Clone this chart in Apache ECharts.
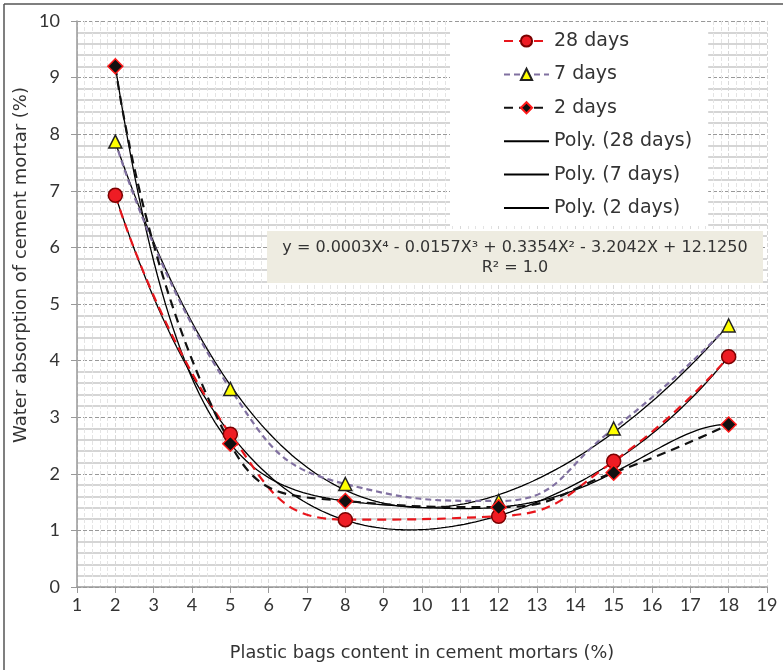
<!DOCTYPE html>
<html>
<head>
<meta charset="utf-8">
<style>
html, body { margin: 0; padding: 0; background: #fff; }
#chart { width: 783px; height: 670px; }
</style>
<script src="https://cdn.jsdelivr.net/npm/echarts@6/dist/echarts.min.js"></script>
</head>
<body>
<div id="chart"></div>
<script>
// plastic bag content (%)
const contents = [2, 5, 8, 12, 15, 18];
const days28 = [6.92, 2.70, 1.19, 1.25, 2.22, 4.07];
const days7 = [7.87, 3.50, 1.82, 1.52, 2.80, 4.62];
const days2 = [9.20, 2.53, 1.52, 1.41, 2.02, 2.87];
const legendNames = ['28 days', '7 days', '2 days', 'Poly. (28 days)', 'Poly. (7 days)', 'Poly. (2 days)'];
const equationText = 'y = 0.0003X⁴ - 0.0157X³ + 0.3354X² - 3.2042X + 12.1250\nR² = 1.0';
const yTitle = 'Water absorption of cement mortar (%)';
const xTitle = 'Plastic bags content in cement mortars (%)';

const FONT = 'DejaVu Sans';
const NUM_FONT = 'Lato';

// least squares polynomial trendline
function polyFit(xs, ys, deg) {
  const n = deg + 1;
  const A = [];
  for (let i = 0; i < n; i++) {
    A.push([]);
    for (let j = 0; j <= n; j++) A[i].push(0);
  }
  xs.forEach((x, k) => {
    for (let i = 0; i < n; i++) {
      for (let j = 0; j < n; j++) A[i][j] += Math.pow(x, i + j);
      A[i][n] += ys[k] * Math.pow(x, i);
    }
  });
  for (let c = 0; c < n; c++) {
    let p = c;
    for (let r = c + 1; r < n; r++) if (Math.abs(A[r][c]) > Math.abs(A[p][c])) p = r;
    [A[c], A[p]] = [A[p], A[c]];
    for (let r = 0; r < n; r++) {
      if (r === c) continue;
      const f = A[r][c] / A[c][c];
      for (let j = c; j <= n; j++) A[r][j] -= f * A[c][j];
    }
  }
  return A.map((row, i) => row[n] / A[i][i]);
}

function trend(ys, deg) {
  const coef = polyFit(contents, ys, deg);
  const pts = [];
  for (let x = contents[0]; x <= contents[contents.length - 1] + 1e-9; x += 0.1) {
    let y = 0;
    coef.forEach((c, i) => { y += c * Math.pow(x, i); });
    pts.push([x, y]);
  }
  return pts;
}

const pairs = ys => contents.map((x, i) => [x, ys[i]]);

const dataSeries = (name, ys, lineColor, dash, symbol, size, fill, border) => ({
  name: name,
  type: 'line',
  data: pairs(ys),
  smooth: 0.5,
  symbol: symbol,
  symbolSize: size,
  z: 4,
  lineStyle: { color: lineColor, width: 2.2, type: dash },
  itemStyle: { color: fill, borderColor: border, borderWidth: 1.5 }
});

const trendSeries = (name, ys, deg) => ({
  name: name,
  type: 'line',
  data: trend(ys, deg),
  showSymbol: false,
  z: 3,
  lineStyle: { color: '#000', width: 1.3 },
  itemStyle: { color: '#000' }
});

const myChart = echarts.init(document.getElementById('chart'));
myChart.setOption({
  animation: false,
  textStyle: { fontFamily: FONT },
  grid: { left: 77, right: 16, top: 21, bottom: 83 },
  xAxis: {
    type: 'value',
    min: 1, max: 19, interval: 1,
    name: xTitle,
    nameLocation: 'middle',
    nameGap: 57,
    nameTextStyle: { color: '#333', fontSize: 17.7, fontFamily: FONT },
    axisLine: { lineStyle: { color: '#999', width: 1.5 } },
    axisTick: { show: true, length: 6, lineStyle: { color: '#999' } },
    axisLabel: { color: '#333', fontSize: 18, fontFamily: NUM_FONT, margin: 9 },
    splitLine: { show: true, lineStyle: { color: '#d8d8d8', type: 'dashed', width: 1 } },
    minorTick: { show: false, splitNumber: 5 },
    minorSplitLine: { show: true, lineStyle: { color: '#e4e4e4', type: 'dashed', width: 1 } }
  },
  yAxis: {
    type: 'value',
    min: 0, max: 10, interval: 1,
    axisLine: { show: true, lineStyle: { color: '#999', width: 1.5 } },
    axisTick: { show: true, length: 6, lineStyle: { color: '#999' } },
    axisLabel: { color: '#333', fontSize: 18, fontFamily: NUM_FONT, margin: 17 },
    splitLine: { show: true, lineStyle: { color: '#999', type: 'dashed', width: 1 } },
    minorTick: { show: false, splitNumber: 5 },
    minorSplitLine: { show: true, lineStyle: { color: '#c8c8c8', width: 1.5 } }
  },
  legend: {
    orient: 'vertical',
    left: 450, top: 22,
    padding: [9, 16, 8, 53],
    backgroundColor: '#fff',
    itemWidth: 45, itemHeight: 14,
    itemGap: 13.4,
    textStyle: { color: '#333', fontSize: 19, lineHeight: 20, fontFamily: FONT },
    data: legendNames.map((nm, i) => i < 3 ? nm : { name: nm, itemStyle: { opacity: 0 } })
  },
  graphic: [
    {
      type: 'rect', left: 267, top: 231, z: 10,
      shape: { width: 496, height: 52 },
      style: { fill: '#eeece1' }
    },
    {
      type: 'text', x: 515, y: 238, z: 11,
      style: {
        text: equationText, fontSize: 16, fontFamily: FONT, fill: '#333',
        textAlign: 'center', lineHeight: 20
      }
    },
    {
      type: 'text', x: 21, y: 265, rotation: Math.PI / 2,
      style: {
        text: yTitle, fontSize: 18, fontFamily: FONT, fill: '#333',
        textAlign: 'center', textVerticalAlign: 'middle'
      }
    },
    { type: 'line', shape: { x1: 4, y1: 4, x2: 4, y2: 670 }, style: { stroke: '#555', lineWidth: 1.5 } },
    { type: 'line', shape: { x1: 4, y1: 4, x2: 783, y2: 4 }, style: { stroke: '#555', lineWidth: 1.5 } }
  ],
  series: [
    dataSeries(legendNames[0], days28, '#e8161c', [9, 6], 'circle', 14, '#ee1c24', '#7a0000'),
    dataSeries(legendNames[1], days7, '#8070a0', [6, 4], 'triangle', 13, '#ffff00', '#222'),
    dataSeries(legendNames[2], days2, '#111', [9, 6], 'diamond', 15, '#111', '#ff1a1a'),
    trendSeries(legendNames[3], days28, 4),
    trendSeries(legendNames[4], days7, 4),
    trendSeries(legendNames[5], days2, 5)
  ]
});
</script>
</body>
</html>
